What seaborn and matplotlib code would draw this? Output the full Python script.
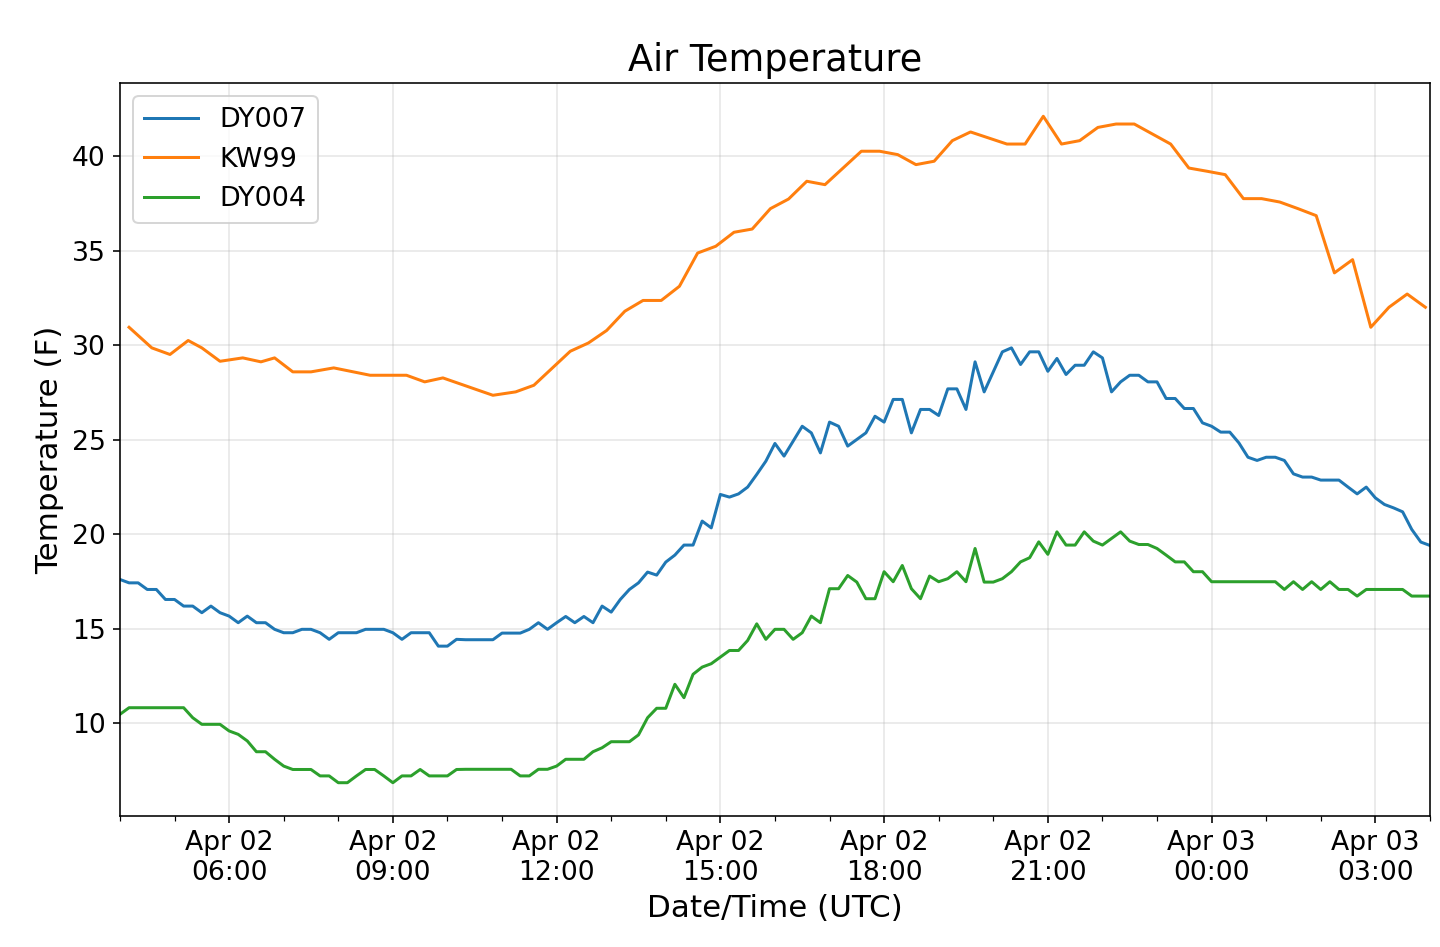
import matplotlib
matplotlib.use("Agg")
import matplotlib.pyplot as plt
import matplotlib.dates as mdates
from matplotlib.ticker import MultipleLocator
import pandas as pd
import seaborn as sns


# Station data: DY007 / DY004 report every 10 minutes from Apr 02 04:00 UTC
start = pd.Timestamp("2019-04-02 04:00")
station_times = pd.date_range(start, periods=145, freq="10min")

dy007 = [
    17.60, 17.42, 17.42, 17.07, 17.07, 16.54, 16.54, 16.19, 16.19, 15.84,
    16.19, 15.84, 15.66, 15.31, 15.66, 15.31, 15.31, 14.96, 14.78, 14.78,
    14.96, 14.96, 14.78, 14.43, 14.78, 14.78, 14.78, 14.96, 14.96, 14.96,
    14.78, 14.43, 14.78, 14.78, 14.78, 14.07, 14.07, 14.43,
    14.41, 14.41, 14.41, 14.41, 14.76, 14.76, 14.76, 14.96, 15.31, 14.96,
    15.31, 15.64, 15.31, 15.64, 15.31, 16.19, 15.87, 16.54, 17.07, 17.42,
    17.99, 17.83, 18.52, 18.89, 19.42, 19.42, 20.69, 20.33, 22.10, 21.96,
    22.13, 22.49, 23.16, 23.86,
    24.80, 24.13, 24.92, 25.71, 25.36, 24.30, 25.93, 25.71, 24.66, 25.01,
    25.36, 26.24, 25.93, 27.13, 27.13, 25.36, 26.60, 26.60, 26.28, 27.69,
    27.69, 26.60, 29.12, 27.53, 28.59, 29.65, 29.86, 28.98, 29.65, 29.65,
    28.62, 29.30, 28.45, 28.94, 28.94, 29.65, 29.33,
    27.53, 28.06, 28.41, 28.41, 28.06, 28.06, 27.18, 27.18, 26.65, 26.65,
    25.89, 25.71, 25.40, 25.40, 24.83, 24.07, 23.90, 24.07, 24.07, 23.90,
    23.19, 23.02, 23.02, 22.86, 22.86, 22.86, 22.49, 22.13, 22.49, 21.92,
    21.57, 21.39, 21.18, 20.25, 19.58, 19.40,
]

dy004 = [
    10.46, 10.81, 10.81, 10.81, 10.81, 10.81, 10.81, 10.81, 10.28, 9.93,
    9.93, 9.93, 9.58, 9.40, 9.05, 8.48, 8.48, 8.08, 7.72, 7.54,
    7.54, 7.54, 7.20, 7.20, 6.84, 6.84, 7.20, 7.54, 7.54, 7.20,
    6.84, 7.20, 7.20, 7.54, 7.20, 7.20, 7.20, 7.54,
    7.55, 7.55, 7.55, 7.55, 7.55, 7.55, 7.20, 7.20, 7.55, 7.55,
    7.72, 8.08, 8.08, 8.08, 8.48, 8.69, 9.01, 9.01, 9.01, 9.37,
    10.28, 10.78, 10.78, 12.05, 11.34, 12.58, 12.96, 13.14, 13.49, 13.84,
    13.84, 14.37, 15.25, 14.43,
    14.96, 14.96, 14.43, 14.78, 15.66, 15.31, 17.11, 17.11, 17.81, 17.46,
    16.58, 16.58, 18.01, 17.48, 18.34, 17.11, 16.58, 17.78, 17.48, 17.64,
    18.01, 17.48, 19.24, 17.46, 17.46, 17.64, 18.01, 18.53, 18.75, 19.59,
    18.93, 20.12, 19.42, 19.42, 20.12, 19.63, 19.42, 19.77,
    20.12, 19.63, 19.45, 19.45, 19.24, 18.89, 18.53, 18.53, 18.01, 18.01,
    17.48, 17.48, 17.48, 17.48, 17.48, 17.48, 17.48, 17.48, 17.07, 17.48,
    17.07, 17.48, 17.07, 17.48, 17.07, 17.07, 16.72, 17.07, 17.07, 17.07,
    17.07, 17.07, 16.72, 16.72, 16.72,
]

# KW99 reports roughly every 20 minutes
kw99_clock = [
    "04:10", "04:35", "04:55", "05:15", "05:30", "05:50", "06:15", "06:35",
    "06:50", "07:10", "07:30", "07:55", "08:35", "08:55", "09:15", "09:35",
    "09:55", "10:35", "10:50", "11:15", "11:35", "12:15", "12:35", "12:55",
    "13:15", "13:35", "13:55", "14:15", "14:35", "14:55", "15:15", "15:35",
    "15:55", "16:15", "16:35", "16:55", "17:35", "17:55", "18:15", "18:35",
    "18:55", "19:15", "19:35", "20:15", "20:35", "20:55", "21:15", "21:35",
    "21:55", "22:15", "22:35", "23:15", "23:35", "23:55", "00:15", "00:35",
    "00:55", "01:15", "01:35", "01:55", "02:15", "02:35", "02:55", "03:15",
    "03:35", "03:55",
]
kw99_temp = [
    30.95, 29.86, 29.51, 30.25, 29.86, 29.15, 29.33, 29.12,
    29.33, 28.59, 28.59, 28.80, 28.41, 28.41, 28.41, 28.06,
    28.27, 27.60, 27.35, 27.53, 27.88, 29.68, 30.12, 30.78,
    31.80, 32.37, 32.37, 33.12, 34.88, 35.24, 35.98, 36.15,
    37.23, 37.74, 38.68, 38.50, 40.27, 40.27, 40.09, 39.56,
    39.74, 40.83, 41.29, 40.65, 40.65, 42.12, 40.65, 40.83,
    41.53, 41.71, 41.71, 40.65, 39.38, 39.21, 39.03, 37.76,
    37.76, 37.58, 37.23, 36.86, 33.83, 34.53, 30.95, 32.01,
    32.71, 32.01,
]

kw99_times = []
for hhmm in kw99_clock:
    t = pd.Timestamp(f"2019-04-02 {hhmm}")
    if t < start:
        t += pd.Timedelta(days=1)
    kw99_times.append(t)

df = pd.concat([
    pd.DataFrame({"time": station_times, "temp": dy007, "station": "DY007"}),
    pd.DataFrame({"time": kw99_times, "temp": kw99_temp, "station": "KW99"}),
    pd.DataFrame({"time": station_times, "temp": dy004, "station": "DY004"}),
], ignore_index=True)

colors = {"DY007": "#1f77b4", "KW99": "#ff7f0e", "DY004": "#2ca02c"}

fig, ax = plt.subplots(figsize=(10, 947 / 144), dpi=144)
sns.lineplot(data=df, x="time", y="temp", hue="station",
             hue_order=["DY007", "KW99", "DY004"], palette=colors,
             estimator=None, linewidth=1.5, ax=ax)

ax.set_xlim(station_times[0], station_times[-1])
ax.xaxis.set_major_locator(mdates.HourLocator(byhour=range(0, 24, 3)))
ax.xaxis.set_minor_locator(mdates.HourLocator())
ax.xaxis.set_major_formatter(mdates.DateFormatter("%b %d\n%H:%M"))
ax.yaxis.set_major_locator(MultipleLocator(5))

ax.tick_params(axis="both", which="major", labelsize=13.3, length=3.5)
ax.tick_params(axis="x", which="minor", length=2.3)
ax.grid(True, which="major", color="#b0b0b0", alpha=0.3, linewidth=0.8)
ax.grid(False, which="minor")

ax.set_title("Air Temperature", fontsize=18.3)
ax.set_xlabel("Date/Time (UTC)", fontsize=15.5)
ax.set_ylabel("Temperature (F)", fontsize=15.5)
ax.legend(loc="upper left", fontsize=13.5)

fig.subplots_adjust(left=0.0833, right=0.993, top=0.9124, bottom=0.1383)
fig.savefig("out.png", dpi=144)
